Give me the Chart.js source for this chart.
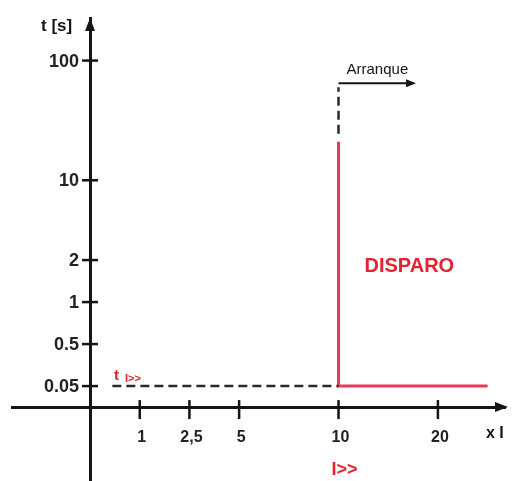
<!DOCTYPE html>
<html>
<head>
<meta charset="utf-8">
<script src="https://cdn.jsdelivr.net/npm/chart.js@4/dist/chart.umd.min.js"></script>
<style>
  html, body { margin: 0; padding: 0; background: #fff; }
  #wrap { width: 512px; height: 481px; }
</style>
</head>
<body>
<div id="wrap"><canvas id="chart"></canvas></div>
<script>
// Axis marks (schematic, non uniform axes)
const xTicks = [1, 2.5, 5, 10, 20];
const xTickLabels = ['1', '2,5', '5', '10', '20'];
const yTicks = [0.05, 0.5, 1, 2, 10, 100];
const yTickLabels = ['0.05', '0.5', '1', '2', '10', '100'];

// Trip characteristic (I>> at 10 x In, t I>> = 0.05 s)
const tripX = [10, 10, 25];
const tripY = [39, 0.05, 0.05];
// Dashed delay line t I>>
const delayX = [0.45, 10];
const delayY = [0.05, 0.05];
// Dashed start (Arranque) line and its arrow
const startX = [10, 10];
const startY = [45, 80];
const arrowX = [10, 17.5];
const arrowY = [83, 83];

const RED = '#e6395c';
const RED_TEXT = '#e3242f';
const INK = '#151515';
const FONT = '"Liberation Sans", Arial, sans-serif';

function pts(xs, ys) {
    return xs.map((x, i) => ({ x: x, y: ys[i] }));
}

// Piecewise linear map from value to axis slot, origin at 0
function toSlot(v, marks, slots) {
    const m = [0].concat(marks);
    const s = [0].concat(slots);
    for (let i = 1; i < m.length; i++) {
        if (v <= m[i]) {
            return s[i - 1] + (v - m[i - 1]) / (m[i] - m[i - 1]) * (s[i] - s[i - 1]);
        }
    }
    const n = m.length - 1;
    return s[n] + (v - m[n]) / (m[n] - m[n - 1]) * (s[n] - s[n - 1]);
}

class SlotScale extends Chart.LinearScale {
    buildTicks() {
        return this.options.marks.map(v => ({ value: v }));
    }
    getPixelForValue(value) {
        if (value === null || value === undefined) return NaN;
        const o = this.options;
        const a = toSlot(this.min, o.marks, o.slots);
        const b = toSlot(this.max, o.marks, o.slots);
        const s = toSlot(value, o.marks, o.slots);
        return this.getPixelForDecimal((s - a) / (b - a));
    }
}
SlotScale.id = 'slot';
SlotScale.defaults = {};
Chart.register(SlotScale);

// Extra drawing: crossing tick marks, tick labels, arrow heads, annotations
const sketchPlugin = {
    id: 'sketch',
    afterDraw(chart) {
        const ctx = chart.ctx;
        const xs = chart.scales.x;
        const ys = chart.scales.y;
        const x0 = xs.getPixelForValue(0);
        const y0 = ys.getPixelForValue(0);
        const area = chart.chartArea;
        ctx.save();
        ctx.strokeStyle = INK;
        ctx.fillStyle = '#222';
        ctx.lineWidth = 2.5;

        // tick marks and labels
        ctx.font = 'bold 18px ' + FONT;
        ctx.textBaseline = 'middle';
        ctx.textAlign = 'right';
        yTicks.forEach((v, i) => {
            const y = ys.getPixelForValue(v);
            ctx.beginPath(); ctx.moveTo(x0 - 8, y); ctx.lineTo(x0 + 8, y); ctx.stroke();
            ctx.fillText(yTickLabels[i], x0 - 11, y + 1);
        });
        ctx.font = 'bold 16px ' + FONT;
        ctx.textAlign = 'center';
        xTicks.forEach((v, i) => {
            const x = xs.getPixelForValue(v);
            ctx.beginPath(); ctx.moveTo(x, y0 - 7); ctx.lineTo(x, y0 + 12); ctx.stroke();
            ctx.fillText(xTickLabels[i], x + 2, y0 + 31);
        });
        ctx.fillStyle = INK;

        // axis arrow heads
        ctx.beginPath();
        ctx.moveTo(x0, area.top);
        ctx.lineTo(x0 - 5, area.top + 13);
        ctx.lineTo(x0 + 5, area.top + 13);
        ctx.closePath(); ctx.fill();
        ctx.beginPath();
        ctx.moveTo(area.right + 3, y0);
        ctx.lineTo(area.right - 10, y0 - 5);
        ctx.lineTo(area.right - 10, y0 + 5);
        ctx.closePath(); ctx.fill();

        // Arranque arrow head
        const ax = xs.getPixelForValue(arrowX[1]);
        const ay = ys.getPixelForValue(arrowY[1]);
        ctx.beginPath();
        ctx.moveTo(ax + 3, ay);
        ctx.lineTo(ax - 7, ay - 4);
        ctx.lineTo(ax - 7, ay + 4);
        ctx.closePath(); ctx.fill();

        // texts
        ctx.textAlign = 'left';
        ctx.font = 'bold 17px ' + FONT;
        ctx.fillText('t [s]', 41, 26);
        ctx.font = 'bold 16px ' + FONT;
        ctx.fillText('x I', 486, 434);
        ctx.font = '15px ' + FONT;
        ctx.fillText('Arranque', xs.getPixelForValue(10) + 8, ay - 13);

        ctx.fillStyle = RED_TEXT;
        const px = xs.getPixelForValue(10);
        ctx.font = 'bold 20px ' + FONT;
        ctx.fillText('DISPARO', px + 26, 266);
        ctx.font = 'bold 18px ' + FONT;
        ctx.textAlign = 'center';
        ctx.fillText('I>>', px + 6, 470);
        ctx.textAlign = 'left';
        ctx.font = 'bold 15px ' + FONT;
        const ty = ys.getPixelForValue(0.05);
        ctx.fillText('t', 114, ty - 10);
        ctx.font = 'bold 11px ' + FONT;
        ctx.fillText('I>>', 125, ty - 7);
        ctx.restore();
    }
};

new Chart(document.getElementById('chart'), {
    type: 'scatter',
    data: {
        datasets: [
            {
                label: 'delay',
                data: pts(delayX, delayY),
                showLine: true,
                borderColor: '#2a2a2a',
                borderWidth: 2.5,
                borderDash: [9, 5],
                pointRadius: 0
            },
            {
                label: 'start',
                data: pts(startX, startY),
                showLine: true,
                borderColor: '#2a2a2a',
                borderWidth: 2.5,
                borderDash: [9, 5],
                pointRadius: 0
            },
            {
                label: 'arrow',
                data: pts(arrowX, arrowY),
                showLine: true,
                borderColor: INK,
                borderWidth: 2,
                pointRadius: 0
            },
            {
                label: 'trip',
                data: pts(tripX, tripY),
                showLine: true,
                borderColor: RED,
                borderWidth: 3,
                pointRadius: 0
            }
        ]
    },
    options: {
        responsive: true,
        maintainAspectRatio: false,
        animation: false,
        layout: { padding: { left: 12, right: 7, top: 18, bottom: 0 } },
        plugins: {
            legend: { display: false },
            tooltip: { enabled: false }
        },
        scales: {
            x: {
                type: 'slot',
                marks: xTicks,
                slots: [1, 2, 3, 5, 7],
                min: -1.57,
                max: 26.75,
                position: { y: 0 },
                grid: { display: false, drawTicks: false },
                border: { display: true, color: INK, width: 3 },
                ticks: { display: false }
            },
            y: {
                type: 'slot',
                marks: yTicks,
                slots: [0.5, 1.5, 2.5, 3.5, 5.4, 8.25],
                min: -0.176,
                max: 132,
                position: { x: 0 },
                grid: { display: false, drawTicks: false },
                border: { display: true, color: INK, width: 3 },
                ticks: { display: false }
            }
        }
    },
    plugins: [sketchPlugin]
});
</script>
</body>
</html>
